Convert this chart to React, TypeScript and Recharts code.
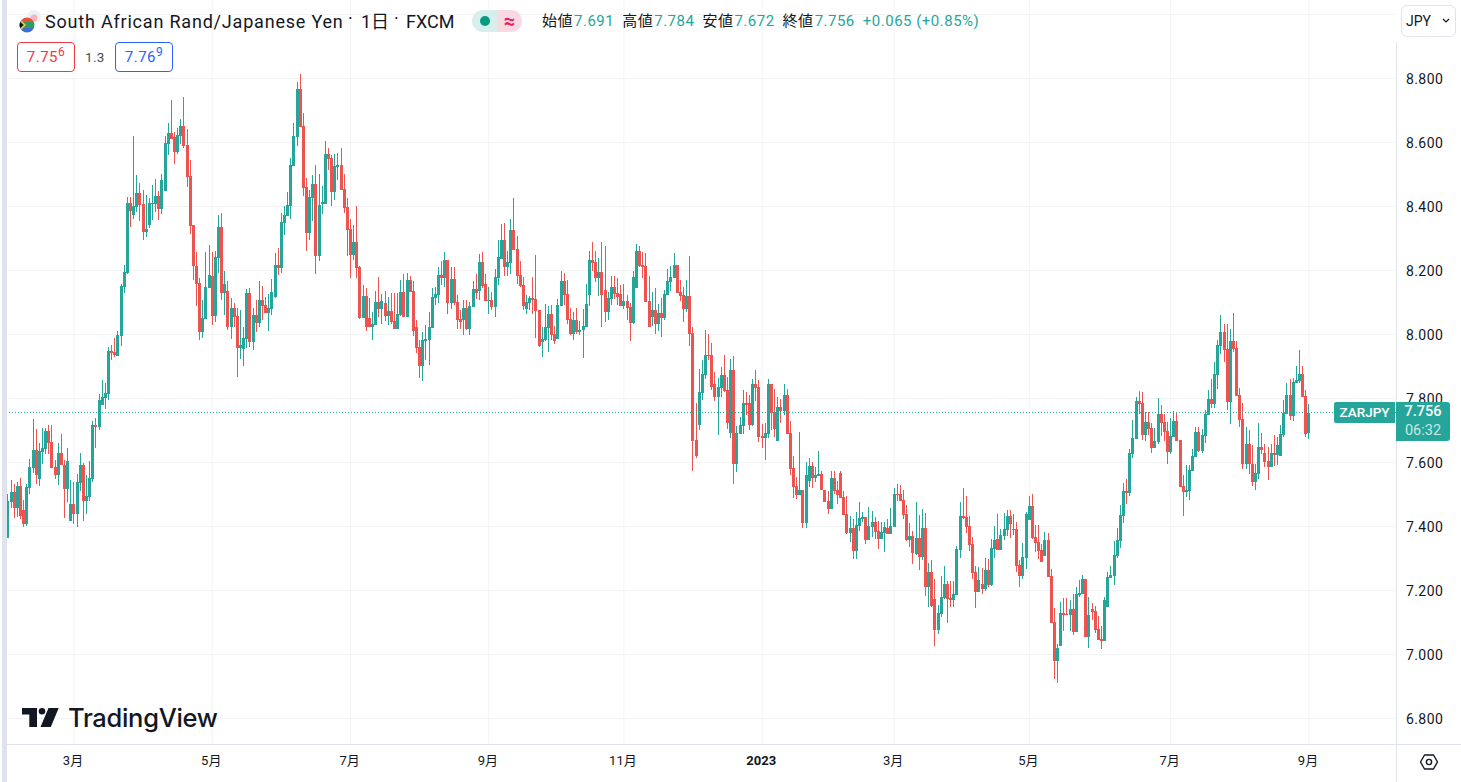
import React from "react";
import { ComposedChart, Bar, XAxis, YAxis, CartesianGrid, ReferenceLine } from "recharts";

// Each candle: [open, high, low, close]
const candlesFebApr = [
[7.364,7.503,7.364,7.479],[7.476,7.545,7.457,7.507],[7.507,7.532,7.426,7.457],[7.457,7.538,7.430,7.526],[7.526,7.551,7.424,7.432],[7.451,7.482,7.399,7.407],[7.407,7.532,7.401,7.523],[7.520,7.610,7.501,7.585],[7.582,7.735,7.567,7.638],[7.638,7.704,7.532,7.560],
[7.548,7.660,7.526,7.635],[7.632,7.707,7.595,7.645],[7.642,7.707,7.626,7.698],[7.698,7.717,7.626,7.661],[7.663,7.717,7.582,7.582],[7.585,7.607,7.548,7.560],[7.560,7.660,7.529,7.629],[7.629,7.688,7.592,7.592],[7.592,7.607,7.426,7.517],[7.517,7.645,7.476,7.604],
[7.417,7.545,7.417,7.470],[7.470,7.538,7.407,7.438],[7.438,7.563,7.398,7.538],[7.535,7.629,7.510,7.592],[7.592,7.599,7.417,7.479],[7.479,7.560,7.438,7.495],[7.492,7.604,7.479,7.551],[7.548,7.729,7.538,7.717],[7.717,7.738,7.645,7.710],[7.710,7.813,7.701,7.795],
[7.779,7.857,7.779,7.804],[7.801,7.848,7.767,7.817],[7.813,7.960,7.795,7.948],[7.948,7.967,7.920,7.942],[7.945,7.988,7.929,7.935],[7.932,8.010,7.932,7.998],[7.995,8.157,7.963,8.151],[8.148,8.217,8.129,8.195],[8.192,8.429,8.188,8.410],[8.410,8.429,8.335,8.385],
[8.373,8.620,8.360,8.401],[8.398,8.498,8.382,8.442],[8.442,8.473,8.354,8.404],[8.407,8.451,8.295,8.320],[8.320,8.435,8.304,8.329],[8.342,8.426,8.332,8.410],[8.407,8.467,8.357,8.410],[8.407,8.485,8.382,8.432],[8.432,8.448,8.357,8.392],[8.392,8.501,8.376,8.482],
[8.448,8.620,8.448,8.598],[8.595,8.660,8.560,8.629],[8.629,8.732,8.610,8.612],[8.617,8.632,8.532,8.570],[8.570,8.645,8.563,8.623],[8.620,8.673,8.595,8.651],[8.651,8.742,8.582,8.588],[8.592,8.642,8.460,8.492],[8.495,8.545,8.313,8.338],[8.342,8.342,8.170,8.213],
[8.213,8.257,8.088,8.157],[8.160,8.176,7.982,8.007],[8.007,8.107,7.988,8.051],[8.048,8.257,8.048,8.148],[8.145,8.279,8.145,8.185],[8.182,8.257,8.029,8.057],[8.057,8.260,8.038,8.242],[8.239,8.373,8.192,8.335],
];
const candlesMayAug = [
[8.335,8.379,8.107,8.129],[8.129,8.198,8.060,8.157],[8.135,8.167,8.013,8.023],[8.023,8.113,7.985,8.082],[8.082,8.098,8.023,8.054],[8.057,8.082,7.867,7.957],[7.957,8.076,7.923,7.967],[7.954,8.023,7.901,7.988],[7.985,8.142,7.957,8.129],[8.129,8.145,7.960,7.976],
[7.976,8.082,7.951,8.060],[8.060,8.107,8.007,8.035],[8.035,8.167,8.023,8.107],[8.107,8.151,8.045,8.088],[8.092,8.117,8.067,8.067],[8.067,8.126,8.010,8.082],[8.079,8.173,8.060,8.132],[8.117,8.254,8.113,8.217],[8.217,8.270,8.185,8.207],[8.207,8.379,8.192,8.351],
[8.348,8.401,8.310,8.373],[8.370,8.445,8.370,8.404],[8.401,8.551,8.360,8.529],[8.526,8.660,8.526,8.620],[8.617,8.788,8.588,8.767],[8.767,8.814,8.648,8.648],[8.651,8.692,8.432,8.457],[8.460,8.488,8.260,8.317],[8.317,8.451,8.295,8.429],[8.426,8.498,8.354,8.470],
[8.470,8.529,8.188,8.245],[8.245,8.501,8.229,8.404],[8.407,8.463,8.376,8.413],[8.407,8.604,8.407,8.563],[8.563,8.582,8.513,8.548],[8.551,8.560,8.401,8.445],[8.445,8.563,8.420,8.526],[8.523,8.567,8.482,8.529],[8.529,8.582,8.451,8.451],[8.454,8.501,8.379,8.395],
[8.398,8.426,8.245,8.326],[8.329,8.360,8.176,8.248],[8.248,8.342,8.232,8.288],[8.288,8.401,8.176,8.207],[8.210,8.213,8.048,8.051],[8.051,8.154,8.051,8.120],[8.120,8.145,8.010,8.023],[8.051,8.113,8.023,8.023],[8.023,8.070,7.982,8.032],[8.029,8.135,8.029,8.101],
[8.101,8.179,8.054,8.079],[8.079,8.126,8.032,8.104],[8.098,8.135,8.042,8.057],[8.057,8.117,8.029,8.073],[8.073,8.129,8.032,8.038],[8.042,8.129,8.017,8.017],[8.017,8.129,8.017,8.063],[8.060,8.170,8.057,8.132],[8.132,8.188,8.054,8.054],[8.054,8.192,8.054,8.170],
[8.170,8.182,8.132,8.132],[8.135,8.167,7.995,8.010],[8.023,8.045,7.942,7.957],[7.960,7.982,7.863,7.901],[7.901,8.007,7.854,7.982],[7.979,8.029,7.920,7.985],[7.982,8.070,7.904,8.023],[8.020,8.145,8.020,8.117],[8.113,8.148,8.092,8.126],[8.123,8.210,8.098,8.185],
];
const candlesSepNov = [
[8.185,8.229,8.154,8.176],[8.176,8.257,8.148,8.232],[8.232,8.232,8.063,8.098],[8.098,8.210,8.079,8.173],[8.173,8.210,8.092,8.098],[8.101,8.123,8.017,8.045],[8.048,8.076,8.017,8.038],[8.045,8.107,7.998,8.082],[8.082,8.107,8.013,8.017],[8.017,8.101,7.998,8.088],
[8.085,8.167,8.085,8.142],[8.142,8.188,8.110,8.129],[8.135,8.251,8.107,8.226],[8.226,8.257,8.145,8.151],[8.157,8.188,8.104,8.104],[8.104,8.148,8.063,8.107],[8.107,8.132,8.076,8.085],[8.085,8.204,8.054,8.179],[8.176,8.295,8.154,8.242],[8.235,8.345,8.235,8.295],
[8.295,8.348,8.182,8.210],[8.210,8.260,8.182,8.226],[8.223,8.360,8.188,8.326],[8.326,8.426,8.263,8.263],[8.267,8.307,8.157,8.182],[8.185,8.229,8.148,8.151],[8.154,8.179,8.076,8.088],[8.079,8.123,8.063,8.101],[8.098,8.120,8.076,8.113],[8.113,8.179,8.063,8.107],
[8.110,8.248,7.988,8.073],[8.076,8.076,7.960,7.963],[7.976,8.023,7.929,7.985],[7.982,8.095,7.979,8.023],[8.020,8.088,7.945,8.063],[8.063,8.092,7.982,7.998],[8.001,8.026,7.970,7.979],[7.985,8.110,7.985,8.092],[8.088,8.198,8.088,8.167],[8.167,8.192,8.092,8.123],
[8.126,8.170,8.032,8.045],[8.048,8.082,7.998,8.001],[8.001,8.070,7.982,8.045],[8.045,8.082,8.001,8.007],[8.007,8.042,7.998,8.013],[8.013,8.079,7.926,8.026],[8.023,8.157,8.023,8.095],[8.123,8.260,8.088,8.232],[8.232,8.288,8.198,8.223],[8.226,8.260,8.163,8.176],
[8.176,8.238,8.120,8.195],[8.195,8.288,8.023,8.123],[8.138,8.276,8.038,8.070],[8.070,8.132,8.045,8.113],[8.110,8.182,8.092,8.148],[8.148,8.182,8.110,8.126],[8.129,8.176,8.092,8.117],[8.126,8.154,8.088,8.088],[8.088,8.157,8.079,8.104],[8.104,8.123,8.045,8.082],
[8.085,8.098,7.979,8.035],[8.035,8.198,8.032,8.179],[8.145,8.282,8.145,8.260],[8.260,8.276,8.210,8.213],[8.217,8.257,8.176,8.210],[8.213,8.254,8.101,8.101],[8.104,8.182,8.023,8.023],[8.054,8.132,8.026,8.076],[8.076,8.145,8.001,8.032],[8.032,8.095,8.010,8.067],
[8.067,8.113,7.992,8.051],[8.051,8.138,8.045,8.126],[8.123,8.204,8.123,8.167],[8.163,8.213,8.135,8.179],[8.176,8.254,8.176,8.217],[8.217,8.217,8.129,8.129],[8.132,8.170,8.104,8.120],[8.123,8.148,8.038,8.079],[8.079,8.170,8.070,8.120],[8.120,8.245,7.963,8.001],
];
const candlesDecFeb = [
[8.004,8.023,7.573,7.667],[7.670,7.786,7.614,7.620],[7.717,7.892,7.701,7.820],[7.817,7.920,7.795,7.876],[7.873,8.014,7.861,7.936],[7.936,8.001,7.920,7.932],[7.936,7.973,7.826,7.836],[7.845,7.882,7.792,7.804],[7.804,7.864,7.686,7.836],[7.832,7.898,7.804,7.873],
[7.873,7.936,7.820,7.823],[7.826,7.867,7.704,7.723],[7.692,7.923,7.676,7.889],[7.889,7.932,7.532,7.595],[7.595,7.714,7.570,7.692],[7.689,7.742,7.689,7.717],[7.714,7.826,7.689,7.786],[7.786,7.820,7.748,7.779],[7.786,7.811,7.701,7.717],[7.717,7.861,7.714,7.845],
[7.845,7.889,7.792,7.832],[7.836,7.857,7.664,7.679],[7.682,7.720,7.645,7.676],[7.676,7.723,7.607,7.692],[7.689,7.861,7.676,7.845],[7.845,7.845,7.701,7.754],[7.757,7.829,7.679,7.704],[7.667,7.804,7.667,7.773],[7.773,7.798,7.723,7.761],[7.761,7.845,7.748,7.811],
[7.811,7.829,7.689,7.689],[7.692,7.729,7.561,7.579],[7.582,7.620,7.489,7.523],[7.526,7.554,7.486,7.498],[7.498,7.695,7.498,7.514],[7.514,7.514,7.395,7.411],[7.411,7.601,7.395,7.561],[7.542,7.614,7.523,7.589],[7.589,7.601,7.520,7.551],[7.551,7.586,7.539,7.561],
[7.557,7.636,7.557,7.564],[7.564,7.573,7.514,7.514],[7.514,7.514,7.476,7.476],[7.479,7.511,7.439,7.454],[7.454,7.573,7.454,7.551],[7.551,7.573,7.501,7.511],[7.514,7.542,7.470,7.498],[7.567,7.573,7.489,7.489],[7.492,7.511,7.436,7.436],[7.439,7.495,7.376,7.379],
[7.379,7.432,7.351,7.395],[7.395,7.423,7.298,7.323],[7.323,7.445,7.298,7.404],[7.401,7.476,7.386,7.426],[7.423,7.445,7.414,7.429],[7.429,7.429,7.345,7.357],[7.357,7.461,7.357,7.401],[7.398,7.448,7.367,7.414],[7.414,7.429,7.361,7.382],[7.386,7.417,7.329,7.361],
[7.361,7.414,7.361,7.382],[7.379,7.414,7.320,7.398],[7.395,7.423,7.376,7.376],[7.376,7.457,7.376,7.401],[7.398,7.520,7.398,7.501],[7.501,7.532,7.479,7.498],[7.501,7.529,7.479,7.479],[7.482,7.514,7.423,7.436],
];
const candlesMarMay = [
[7.438,7.467,7.354,7.357],[7.357,7.410,7.335,7.370],[7.370,7.385,7.282,7.317],[7.313,7.476,7.310,7.363],[7.363,7.435,7.263,7.304],[7.304,7.454,7.295,7.395],[7.395,7.442,7.182,7.210],[7.210,7.285,7.148,7.257],[7.257,7.295,7.148,7.151],[7.173,7.235,7.026,7.076],
[7.076,7.154,7.063,7.129],[7.126,7.245,7.117,7.179],[7.176,7.276,7.173,7.220],[7.220,7.229,7.098,7.173],[7.176,7.229,7.148,7.170],[7.170,7.229,7.148,7.188],[7.185,7.338,7.185,7.329],[7.326,7.476,7.301,7.432],[7.432,7.520,7.423,7.426],[7.429,7.495,7.379,7.398],
[7.401,7.432,7.323,7.342],[7.345,7.367,7.235,7.254],[7.257,7.276,7.145,7.195],[7.195,7.273,7.195,7.232],[7.220,7.270,7.188,7.204],[7.204,7.301,7.198,7.263],[7.263,7.298,7.210,7.217],[7.217,7.360,7.213,7.332],[7.329,7.401,7.301,7.359],[7.362,7.438,7.326,7.326],
[7.326,7.392,7.326,7.373],[7.370,7.442,7.357,7.392],[7.388,7.451,7.370,7.432],[7.432,7.451,7.363,7.407],[7.388,7.438,7.373,7.392],[7.392,7.413,7.257,7.276],[7.279,7.295,7.210,7.245],[7.245,7.348,7.235,7.304],[7.301,7.445,7.267,7.438],[7.420,7.495,7.420,7.463],
[7.463,7.501,7.360,7.363],[7.367,7.404,7.320,7.348],[7.351,7.404,7.298,7.323],[7.326,7.345,7.288,7.288],[7.307,7.382,7.307,7.357],[7.357,7.379,7.242,7.242],[7.245,7.267,7.098,7.098],[7.101,7.145,6.923,6.979],[6.979,7.032,6.910,7.020],[7.026,7.163,7.026,7.129],
[7.129,7.176,7.073,7.123],[7.126,7.176,7.123,7.123],[7.123,7.170,7.073,7.142],[7.142,7.188,7.060,7.070],[7.070,7.210,7.070,7.188],[7.185,7.232,7.180,7.192],[7.188,7.248,7.188,7.235],[7.235,7.235,7.054,7.054],[7.054,7.179,7.020,7.123],[7.142,7.160,7.107,7.132],
[7.135,7.151,7.067,7.076],[7.079,7.120,7.045,7.045],[7.048,7.088,7.017,7.042],[7.042,7.179,7.042,7.170],[7.148,7.257,7.148,7.242],[7.238,7.276,7.238,7.248],[7.245,7.354,7.217,7.310],[7.307,7.395,7.301,7.357],[7.354,7.467,7.332,7.435],[7.432,7.535,7.410,7.510],[7.510,7.548,7.470,7.504],
];
const candlesJunSep = [
[7.504,7.642,7.495,7.629],[7.626,7.732,7.614,7.676],[7.673,7.804,7.673,7.792],[7.792,7.823,7.751,7.782],[7.785,7.820,7.670,7.685],[7.685,7.757,7.667,7.726],[7.726,7.757,7.685,7.704],[7.707,7.723,7.629,7.645],[7.645,7.707,7.645,7.667],[7.664,7.801,7.657,7.751],
[7.751,7.779,7.682,7.723],[7.726,7.751,7.667,7.695],[7.698,7.726,7.595,7.632],[7.632,7.738,7.626,7.682],[7.679,7.760,7.679,7.729],[7.729,7.754,7.667,7.667],[7.670,7.670,7.523,7.523],[7.526,7.560,7.432,7.507],[7.507,7.592,7.492,7.514],[7.510,7.592,7.482,7.576],
[7.573,7.642,7.573,7.620],[7.617,7.710,7.617,7.695],[7.695,7.710,7.632,7.635],[7.635,7.704,7.629,7.685],[7.682,7.763,7.660,7.751],[7.748,7.826,7.748,7.798],[7.798,7.860,7.770,7.782],[7.782,7.914,7.770,7.876],[7.873,7.982,7.831,7.967],[7.963,8.060,7.939,8.007],
[8.007,8.032,7.914,7.951],[7.954,8.032,7.763,7.788],[7.788,8.017,7.720,7.979],[7.979,8.067,7.945,7.954],[7.957,7.979,7.807,7.807],[7.810,7.832,7.710,7.732],[7.735,7.785,7.579,7.595],[7.595,7.710,7.579,7.657],[7.657,7.701,7.563,7.595],[7.595,7.654,7.526,7.539],
[7.539,7.595,7.514,7.567],[7.563,7.723,7.548,7.648],[7.648,7.692,7.626,7.638],[7.629,7.657,7.585,7.601],[7.604,7.648,7.545,7.585],[7.585,7.657,7.585,7.629],[7.629,7.685,7.589,7.623],[7.623,7.679,7.592,7.654],[7.620,7.717,7.620,7.688],[7.685,7.795,7.679,7.754],
[7.751,7.848,7.751,7.810],[7.810,7.860,7.732,7.745],[7.745,7.863,7.729,7.850],[7.848,7.901,7.848,7.857],[7.854,7.951,7.848,7.876],[7.876,7.901,7.804,7.804],[7.807,7.826,7.679,7.688],[7.691,7.784,7.672,7.756],
];

const priceTicks = [6.8, 7, 7.2, 7.4, 7.6, 7.8, 8, 8.2, 8.4, 8.6, 8.8];
const gridPrices = [...priceTicks, 9];
const monthTickIndex = [21, 65, 109, 153, 196, 240, 282, 325, 370, 414];
const monthTickLabel = ["3月", "5月", "7月", "9月", "11月", "2023", "3月", "5月", "7月", "9月"];
const lastClose = 7.756;

const UP = "#26a69a";
const DOWN = "#ef5350";
const FONT = "Roboto, 'Noto Sans CJK JP', sans-serif";
const CHART_W = 1461;
const CHART_H = 782;

const rows = [...candlesFebApr, ...candlesMayAug, ...candlesSepNov, ...candlesDecFeb, ...candlesMarMay, ...candlesJunSep].map(
  (c, idx) => ({ idx, open: c[0], high: c[1], low: c[2], close: c[3], range: [c[2], c[1]] })
);

const slot = (1309 - 8) / (rows.length - 1);
const xDomain = [-1 / slot, (1396 - 8) / slot];

function Candle(props: any) {
  const { x, y, width, height, payload } = props;
  const span = payload.range[1] - payload.range[0];
  const yOf = (v: number) => y + ((payload.range[1] - v) / span) * height;
  const cx = Math.round(x + width / 2 - 0.5);
  const up = payload.close >= payload.open;
  const color = up ? UP : DOWN;
  const top = Math.round(yOf(Math.max(payload.open, payload.close)));
  const bottom = Math.round(yOf(Math.min(payload.open, payload.close)));
  return (
    <g shapeRendering="crispEdges">
      <rect x={cx} y={y} width={1} height={height} fill={color} />
      <rect x={cx - 1} y={top} width={3} height={Math.max(1, bottom - top)} fill={color} />
    </g>
  );
}

function MonthTick(props: any) {
  const { x, y, payload } = props;
  const i = monthTickIndex.indexOf(payload.value);
  const label = monthTickLabel[i];
  return (
    <text x={x - 1} y={y + 6} textAnchor="middle" dominantBaseline="central" fontSize={13} fontFamily={FONT}
      fontWeight={label === "2023" ? 700 : 400} fill="#131722">
      {label}
    </text>
  );
}

const abs = (left: number, top: number, extra: React.CSSProperties = {}): React.CSSProperties => ({
  position: "absolute", left, top, whiteSpace: "nowrap", fontFamily: FONT, ...extra,
});

function Header() {
  const teal = { color: UP };
  const label = { color: "#131722", marginRight: 1 };
  const gap = { marginRight: 8 };
  const titleLine = { fontSize: 18, lineHeight: "26px", color: "#131722" };
  return (
    <>
      <svg style={abs(18, 9)} width={26} height={26} viewBox="0 0 26 26">
        <circle cx={16} cy={8} r={7} fill="#eef0f8" />
        <circle cx={16} cy={9} r={3.5} fill="#f4b6bd" />
        <clipPath id="flag"><circle cx={9} cy={16} r={7.5} /></clipPath>
        <g clipPath="url(#flag)">
          <rect x={0} y={8} width={18} height={5} fill="#e8503f" />
          <rect x={0} y={13} width={18} height={6} fill="#2f9e5b" />
          <rect x={0} y={19} width={18} height={5} fill="#3b6fd6" />
          <path d="M1 12 L5.500 16 L1 20 Z" fill="#111" />
          <path d="M1 10 L7 16 L1 22" fill="none" stroke="#ffc83c" strokeWidth={1.4} />
        </g>
      </svg>
      <div style={abs(45, 9, { ...titleLine, letterSpacing: 0.8 })}>South African Rand/Japanese Yen</div>
      <div style={abs(348, 6, titleLine)}>·</div>
      <div style={abs(361, 9, titleLine)}>1日</div>
      <div style={abs(394, 6, titleLine)}>·</div>
      <div style={abs(406, 9, titleLine)}>FXCM</div>
      <div style={abs(472, 10, { width: 25, height: 22, background: "#d6efec", borderRadius: "11px 0 0 11px" })} />
      <div style={abs(480, 16, { width: 10, height: 10, background: "#089981", borderRadius: 5 })} />
      <div style={abs(497, 10, { width: 25, height: 22, background: "#fbd9e3", borderRadius: "0 11px 11px 0", color: "#e91e63", fontSize: 20, lineHeight: "22px", textAlign: "center", fontWeight: 700 })}>≈</div>
      <div style={abs(542, 11, { fontSize: 15, lineHeight: "20px", letterSpacing: 0.5 })}>
        <span style={label}>始値</span><span style={{ ...teal, ...gap }}>7.691</span>
        <span style={label}>高値</span><span style={{ ...teal, ...gap }}>7.784</span>
        <span style={label}>安値</span><span style={{ ...teal, ...gap }}>7.672</span>
        <span style={label}>終値</span><span style={{ ...teal, ...gap }}>7.756</span>
        <span style={teal}>+0.065 (+0.85%)</span>
      </div>
      <div style={abs(17, 42, { width: 56, height: 28, border: "1px solid #f23645", borderRadius: 4, color: "#f23645", fontSize: 15, lineHeight: "28px", textAlign: "center", letterSpacing: 0.5 })}>
        7.75<sup style={{ fontSize: 12, lineHeight: 0 }}>6</sup>
      </div>
      <div style={abs(85, 48, { fontSize: 13.5, lineHeight: "18px", color: "#4a4e57", letterSpacing: 0.3 })}>1.3</div>
      <div style={abs(115, 42, { width: 56, height: 28, border: "1px solid #2962ff", borderRadius: 4, color: "#2962ff", fontSize: 15, lineHeight: "28px", textAlign: "center", letterSpacing: 0.5 })}>
        7.76<sup style={{ fontSize: 12, lineHeight: 0 }}>9</sup>
      </div>
      <div style={abs(1401, 5, { width: 53, height: 30, border: "1px solid #e0e3eb", borderRadius: 6, background: "#fff" })} />
      <div style={abs(1406, 11, { fontSize: 14, lineHeight: "20px", color: "#131722" })}>JPY</div>
      <svg style={abs(1442, 18)} width={8} height={5} viewBox="0 0 8 5">
        <path d="M1 1 L4 4 L7 1" fill="none" stroke="#131722" strokeWidth={1.2} />
      </svg>
    </>
  );
}

function Overlays() {
  return (
    <>
      <div style={abs(2, 0, { width: 5, height: CHART_H, background: "#e0e3eb" })} />
      <div style={abs(1396, 42, { width: 1, height: CHART_H - 42, background: "#e0e3eb" })} />
      <div style={abs(7, 744, { width: CHART_W - 7, height: 1, background: "#e0e3eb" })} />
      <svg style={abs(22, 707)} width={38} height={20} viewBox="0 0 38 20">
        <path d="M0 1 H15 V20 H7.3 V7.5 H0 Z" fill="#131722" />
        <circle cx={20} cy={4.3} r={3.3} fill="#131722" />
        <path d="M26.500 1 H36.700 L28.800 20 H18.500 Z" fill="#131722" />
      </svg>
      <div style={abs(68, 702, { fontSize: 25.5, lineHeight: "32px", fontWeight: 500, color: "#131722", fontFamily: "Inter, Roboto, sans-serif", letterSpacing: -0.3 })}>TradingView</div>
      <div style={abs(1334, 402, { width: 61, height: 21, background: UP, borderRadius: "2px 0 0 2px", color: "#fff", fontSize: 13.5, lineHeight: "21px", fontWeight: 500, textAlign: "center" })}>ZARJPY</div>
      <div style={abs(1396, 402, { width: 54, height: 39, background: UP, borderRadius: "0 3px 3px 0", textAlign: "center", fontSize: 14.5, lineHeight: "19px", color: "#fff", fontWeight: 500 })}>
        <div>7.756</div>
        <div style={{ color: "rgba(255,255,255,0.75)", fontWeight: 400 }}>06:32</div>
      </div>
      <svg style={abs(1419, 752)} width={20} height={20} viewBox="0 0 20 20">
        <path d="M5.500 3 H14.500 L18.500 10 L14.500 17 H5.500 L1.500 10 Z" fill="none" stroke="#131722" strokeWidth={1.4} strokeLinejoin="round" />
        <circle cx={10} cy={10} r={2.6} fill="none" stroke="#131722" strokeWidth={1.4} />
      </svg>
    </>
  );
}

export default function App() {
  return (
    <div style={{ position: "absolute", left: 0, top: 0, width: CHART_W, height: CHART_H, background: "#fff", overflow: "hidden" }}>
      <ComposedChart width={CHART_W} height={CHART_H} data={rows} margin={{ top: 0, right: 0, bottom: 0, left: 7 }}>
        <CartesianGrid stroke="#f2f3f5" horizontalValues={gridPrices} verticalValues={monthTickIndex} />
        <XAxis dataKey="idx" type="number" domain={xDomain} allowDataOverflow ticks={monthTickIndex} height={38}
          axisLine={false} tickLine={false} tick={<MonthTick />} tickMargin={4} interval={0} />
        <YAxis orientation="right" type="number" domain={[6.7203, 9.0453]} allowDataOverflow ticks={priceTicks} width={65}
          axisLine={false} tickLine={false} tickMargin={4} interval={0}
          tickFormatter={(v: number) => v.toFixed(3)}
          tick={{ fontSize: 14, fill: "#131722", fontFamily: FONT, letterSpacing: 0.4, dy: 1 }} />
        <ReferenceLine y={lastClose} stroke={UP} strokeDasharray="1 2" />
        <Bar dataKey="range" barSize={3} shape={<Candle />} isAnimationActive={false} />
      </ComposedChart>
      <Overlays />
      <Header />
    </div>
  );
}
